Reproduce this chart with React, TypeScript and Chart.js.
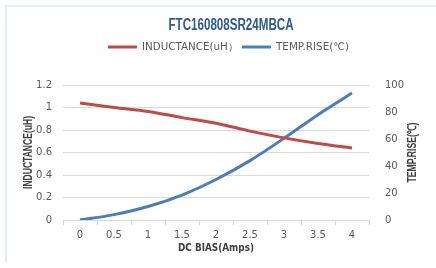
import React, { useEffect, useRef } from "react";
import { Chart, registerables } from "chart.js";

Chart.register(...registerables);

const TITLE = "FTC160808SR24MBCA";
const xLabels = ["0", "0.5", "1", "1.5", "2", "2.5", "3", "3.5", "4"];
const inductance = [1.04, 1.0, 0.965, 0.91, 0.86, 0.79, 0.73, 0.68, 0.64];
const tempRise = [0, 4, 10, 18.5, 30, 44, 60.5, 78, 94];
const leftTicks = [0, 0.2, 0.4, 0.6, 0.8, 1, 1.2];
const rightTicks = [0, 20, 40, 60, 80, 100];

const RED = "#BE4B48";
const BLUE = "#4A7EBB";
const TICK_COLOR = "#595959";
const GRID = "#D9D9D9";
const SANS = "'Liberation Sans', Arial, sans-serif";
const TICKFONT = "'DejaVu Sans', Verdana, sans-serif";

function drawFitted(ctx: any, text: string, cx: number, cy: number, width: number, font: string, rot: number) {
  ctx.save();
  ctx.font = font;
  ctx.textAlign = "center";
  ctx.textBaseline = "middle";
  const w = ctx.measureText(text).width;
  ctx.translate(cx, cy);
  ctx.rotate(rot);
  ctx.scale(width / w, 1);
  ctx.fillText(text, 0, 0);
  ctx.restore();
}

export default function App() {
  const ref = useRef<HTMLCanvasElement | null>(null);
  useEffect(() => {
    if (!ref.current) return;
    const headerPlugin = {
      id: "header",
      afterDraw(chart: any) {
        const ctx = chart.ctx;
        const ca = chart.chartArea;
        ctx.save();
        ctx.fillStyle = "#2E5A8E";
        drawFitted(ctx, TITLE, 231, 26, 125, `bold 16px ${SANS}`, 0);
        // legend
        const items = [
          { label: "INDUCTANCE(uH）", color: RED, x: 108, w: 96 },
          { label: "TEMP.RISE(℃)", color: BLUE, x: 242, w: 73 },
        ];
        for (const it of items) {
          ctx.strokeStyle = it.color;
          ctx.lineWidth = 3;
          ctx.beginPath();
          ctx.moveTo(it.x, 47);
          ctx.lineTo(it.x + 29, 47);
          ctx.stroke();
          ctx.fillStyle = TICK_COLOR;
          drawFitted(ctx, it.label, it.x + 34 + it.w / 2, 47, it.w, `10px ${TICKFONT}`, 0);
        }
        // axis titles
        ctx.fillStyle = "#404040";
        drawFitted(ctx, "DC BIAS(Amps)", (ca.left + ca.right) / 2, 248, 76, `bold 11px ${TICKFONT}`, 0);
        const midY = (ca.top + ca.bottom) / 2;
        drawFitted(ctx, "INDUCTANCE(uH)", 29, midY, 73, `bold 12px ${SANS}`, -Math.PI / 2);
        drawFitted(ctx, "TEMP.RISE(℃)", 413, midY, 60, `bold 12px ${SANS}`, -Math.PI / 2);
        ctx.restore();
      },
    };
    const chart = new Chart(ref.current, {
      type: "line",
      data: {
        labels: xLabels,
        datasets: [
          {
            label: "INDUCTANCE(uH）",
            data: inductance,
            borderColor: RED,
            backgroundColor: RED,
            borderWidth: 3,
            pointRadius: 0,
            cubicInterpolationMode: "monotone",
            yAxisID: "y",
          },
          {
            label: "TEMP.RISE(℃)",
            data: tempRise,
            borderColor: BLUE,
            backgroundColor: BLUE,
            borderWidth: 3,
            pointRadius: 0,
            cubicInterpolationMode: "monotone",
            yAxisID: "y1",
          },
        ],
      },
      options: {
        animation: false,
        responsive: false,
        maintainAspectRatio: false,
        layout: { padding: { top: 85, left: 0, right: 0, bottom: 0 } },
        plugins: {
          legend: { display: false },
          title: { display: false },
          tooltip: { enabled: false },
        },
        scales: {
          x: {
            type: "category",
            offset: true,
            grid: {
              offset: true,
              display: true,
              drawOnChartArea: false,
              drawTicks: true,
              tickLength: 5,
              color: GRID,
            },
            border: { display: true, color: GRID },
            ticks: {
              color: TICK_COLOR,
              font: { family: TICKFONT, size: 10 },
              padding: 4,
              maxRotation: 0,
              autoSkip: false,
            },
            afterFit(scale: any) {
              scale.height = 48;
            },
          },
          y: {
            position: "left",
            min: 0,
            max: 1.2,
            afterBuildTicks(scale: any) {
              scale.ticks = leftTicks.map((v) => ({ value: v }));
            },
            grid: { color: GRID, drawTicks: false },
            border: { display: false },
            ticks: {
              color: TICK_COLOR,
              font: { family: TICKFONT, size: 10 },
              padding: 11,
              callback: (v: any) => String(v),
            },
            afterFit(scale: any) {
              scale.width = 63;
            },
          },
          y1: {
            position: "right",
            min: 0,
            max: 100,
            afterBuildTicks(scale: any) {
              scale.ticks = rightTicks.map((v) => ({ value: v }));
            },
            grid: { display: false, drawOnChartArea: false },
            border: { display: false },
            ticks: {
              color: TICK_COLOR,
              font: { family: TICKFONT, size: 10 },
              padding: 8,
            },
            afterFit(scale: any) {
              scale.width = 67;
            },
          },
        },
      },
      plugins: [headerPlugin],
    } as any);
    return () => chart.destroy();
  }, []);
  return (
    <div style={{ position: "fixed", left: 0, top: 0, width: 436, height: 268, background: "#fff" }}>
      <div
        style={{
          position: "absolute",
          left: 5,
          top: 5,
          width: 431,
          height: 256,
          borderTop: "2px solid #E6ECF3",
          borderLeft: "2px solid #E6ECF3",
        }}
      />
      <canvas ref={ref} width={436} height={268} style={{ position: "absolute", left: 0, top: 0 }} />
    </div>
  );
}
